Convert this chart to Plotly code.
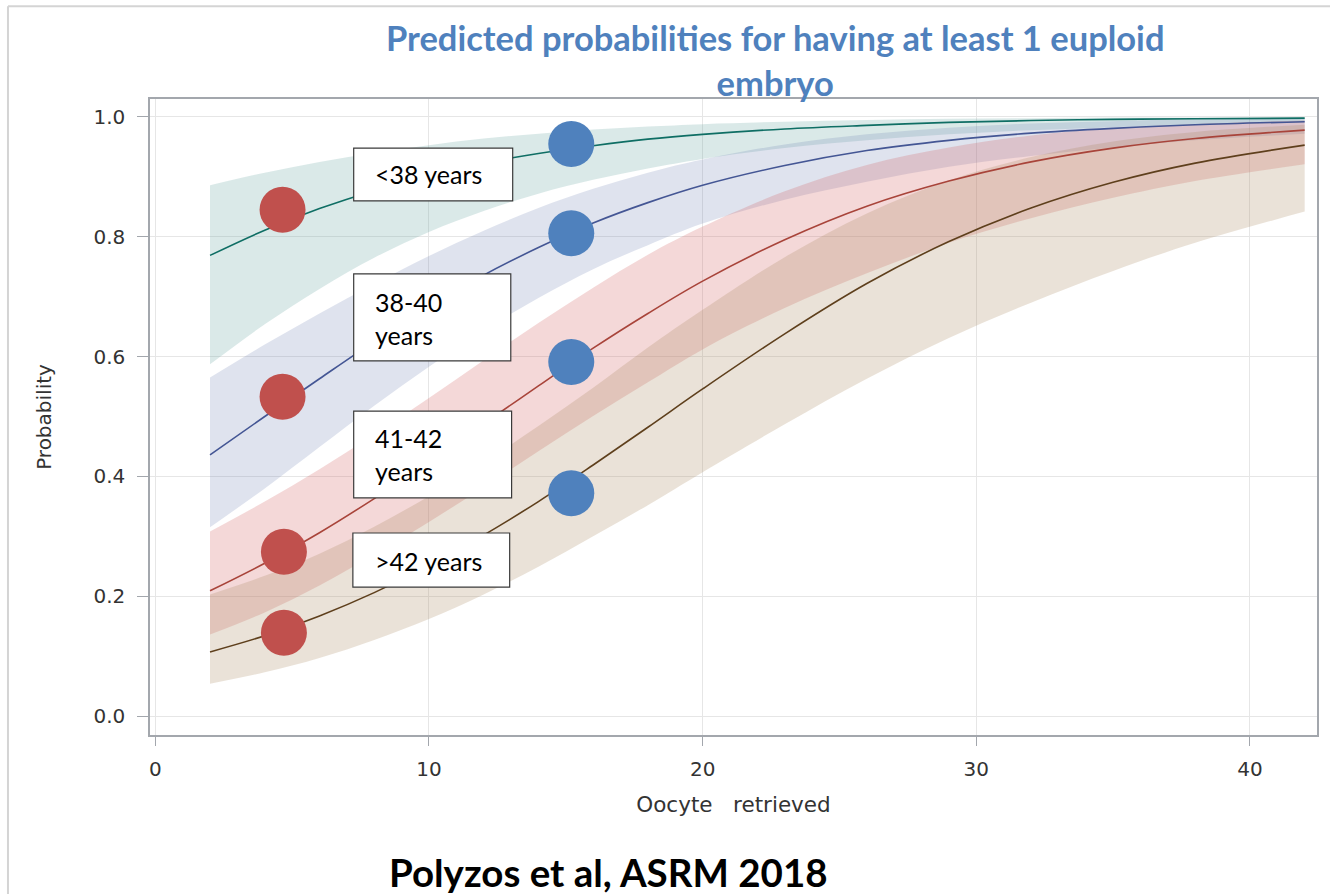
import plotly.graph_objects as go

# ---------------- data ----------------
oocytes = [2, 4, 6, 8, 10, 12, 14, 16, 18, 20, 23, 26, 29, 32, 35, 38, 42]

lt38_mean  = [0.769, 0.811, 0.847, 0.877, 0.902, 0.923, 0.939, 0.952, 0.963, 0.971, 0.980, 0.986, 0.991, 0.994, 0.996, 0.997, 0.998]
lt38_upper = [0.886, 0.907, 0.925, 0.940, 0.953, 0.964, 0.972, 0.979, 0.984, 0.988, 0.992, 0.995, 0.997, 0.998, 0.999, 0.999, 1.000]
lt38_lower = [0.587, 0.654, 0.713, 0.765, 0.808, 0.843, 0.872, 0.895, 0.914, 0.930, 0.948, 0.961, 0.971, 0.978, 0.983, 0.987, 0.991]

y38_40_mean  = [0.436, 0.500, 0.563, 0.625, 0.683, 0.736, 0.782, 0.823, 0.857, 0.886, 0.919, 0.944, 0.961, 0.973, 0.981, 0.987, 0.992]
y38_40_upper = [0.565, 0.620, 0.672, 0.721, 0.768, 0.810, 0.848, 0.880, 0.907, 0.929, 0.954, 0.971, 0.982, 0.989, 0.993, 0.996, 0.998]
y38_40_lower = [0.315, 0.380, 0.449, 0.518, 0.583, 0.644, 0.698, 0.746, 0.786, 0.822, 0.862, 0.892, 0.917, 0.935, 0.949, 0.961, 0.972]

y41_42_mean  = [0.209, 0.255, 0.306, 0.363, 0.424, 0.488, 0.551, 0.614, 0.672, 0.726, 0.795, 0.851, 0.893, 0.925, 0.948, 0.964, 0.978]
y41_42_upper = [0.308, 0.358, 0.412, 0.470, 0.531, 0.594, 0.656, 0.715, 0.770, 0.817, 0.876, 0.920, 0.949, 0.969, 0.981, 0.988, 0.994]
y41_42_lower = [0.136, 0.173, 0.218, 0.269, 0.324, 0.382, 0.442, 0.501, 0.557, 0.612, 0.681, 0.739, 0.790, 0.831, 0.865, 0.893, 0.921]

gt42_mean  = [0.107, 0.134, 0.167, 0.206, 0.251, 0.302, 0.358, 0.419, 0.482, 0.546, 0.638, 0.722, 0.792, 0.848, 0.891, 0.923, 0.953]
gt42_upper = [0.203, 0.234, 0.271, 0.316, 0.367, 0.423, 0.484, 0.548, 0.615, 0.678, 0.766, 0.839, 0.894, 0.933, 0.959, 0.975, 0.987]
gt42_lower = [0.054, 0.073, 0.097, 0.127, 0.162, 0.203, 0.249, 0.300, 0.352, 0.407, 0.487, 0.563, 0.631, 0.690, 0.743, 0.790, 0.842]

# highlighted points
red_dot_x = [4.65, 4.65, 4.7, 4.7]
red_dot_y = [0.845, 0.533, 0.274, 0.139]
blue_dot_x = [15.2, 15.2, 15.2, 15.2]
blue_dot_y = [0.955, 0.806, 0.591, 0.372]

group_labels = ["<38 years", "38-40<br>years", "41-42<br>years", ">42 years"]
label_x = [7.95, 7.95, 7.95, 7.95]
label_y = [0.904, 0.663, 0.436, 0.259]
box_x0 = [7.25, 7.25, 7.25, 7.22]
box_x1 = [13.06, 12.99, 13.02, 12.95]
box_y0 = [0.860, 0.593, 0.364, 0.215]
box_y1 = [0.948, 0.738, 0.509, 0.3055]

x_ticks = [0, 10, 20, 30, 40]
y_ticks = [0.0, 0.2, 0.4, 0.6, 0.8, 1.0]

groups = [
    ("<38", lt38_lower, lt38_mean, lt38_upper, "#0f6e64", "rgba(102,165,160,0.24)"),
    ("38-40", y38_40_lower, y38_40_mean, y38_40_upper, "#445694", "rgba(111,126,179,0.22)"),
    ("41-42", y41_42_lower, y41_42_mean, y41_42_upper, "#A8443A", "rgba(208,91,91,0.24)"),
    (">42", gt42_lower, gt42_mean, gt42_upper, "#5e3f1c", "rgba(169,134,91,0.24)"),
]

fig = go.Figure()

for name, lo, mid, up, lc, fc in groups:
    fig.add_trace(go.Scatter(x=oocytes, y=lo, mode="lines", line=dict(width=0, shape="spline"),
                             showlegend=False, hoverinfo="skip"))
    fig.add_trace(go.Scatter(x=oocytes, y=up, mode="lines", line=dict(width=0, shape="spline"),
                             fill="tonexty", fillcolor=fc, showlegend=False, hoverinfo="skip"))

for name, lo, mid, up, lc, fc in groups:
    fig.add_trace(go.Scatter(x=oocytes, y=mid, mode="lines", name=name,
                             line=dict(color=lc, width=1.6, shape="spline"), showlegend=False))

fig.add_trace(go.Scatter(x=red_dot_x, y=red_dot_y, mode="markers",
                         marker=dict(size=46, color="#C0504D"), showlegend=False))
fig.add_trace(go.Scatter(x=blue_dot_x, y=blue_dot_y, mode="markers",
                         marker=dict(size=46, color="#4F81BD"), showlegend=False))

shapes = []
for i in range(len(group_labels)):
    shapes.append(dict(type="rect", xref="x", yref="y", x0=box_x0[i], x1=box_x1[i],
                       y0=box_y0[i], y1=box_y1[i], fillcolor="white",
                       line=dict(color="#3a3a3a", width=1.2), layer="above"))
# outer light border of the slide image (left and top edges)
shapes.append(dict(type="line", xref="paper", yref="paper", x0=-0.1217, x1=-0.1217,
                   y0=-0.30, y1=1.146, line=dict(color="#d4d4d4", width=2), layer="below"))
shapes.append(dict(type="line", xref="paper", yref="paper", x0=-0.1217, x1=1.06,
                   y0=1.146, y1=1.146, line=dict(color="#d4d4d4", width=2), layer="below"))

annotations = []
for i, t in enumerate(group_labels):
    annotations.append(dict(x=label_x[i], y=label_y[i], xref="x", yref="y", text=t,
                            showarrow=False, xanchor="left", yanchor="middle", align="left",
                            font=dict(family="Lato", size=25, color="black")))

annotations.append(dict(x=0.5355, y=1.061, xref="paper", yref="paper",
                        text="Predicted probabilities for having at least 1 euploid<br>embryo",
                        showarrow=False, xanchor="center", yanchor="middle", align="center",
                        font=dict(family="Lato", size=34.5, color="#4F81BD", weight="bold")))
annotations.append(dict(x=0.393, y=-0.2155, xref="paper", yref="paper",
                        text="Polyzos et al, ASRM 2018", showarrow=False,
                        xanchor="center", yanchor="middle",
                        font=dict(family="Lato", size=38.5, color="black", weight="bold")))

axis_font = dict(family="DejaVu Sans", size=20, color="#333333")
xtitle_font = dict(family="DejaVu Sans", size=21.5, color="#333333")

fig.update_layout(
    width=1330, height=894,
    margin=dict(l=150, r=13, t=99, b=159),
    paper_bgcolor="white", plot_bgcolor="white",
    shapes=shapes, annotations=annotations,
    xaxis=dict(range=[-0.193, 42.45], tickvals=x_ticks, ticktext=[str(v) for v in x_ticks],
               showgrid=True, gridcolor="#e6e6e6", gridwidth=1.3, zeroline=False,
               showline=True, linecolor="#a3a7ad", linewidth=1.5, mirror=True,
               ticks="outside", ticklen=9, tickcolor="#a3a7ad", tickfont=axis_font,
               ticklabelstandoff=6,
               title=dict(text="Oocyte\u00a0\u00a0 retrieved", font=xtitle_font, standoff=17)),
    yaxis=dict(range=[-0.0317, 1.030], tickvals=y_ticks, ticktext=[f"{v:.1f}" for v in y_ticks],
               showgrid=True, gridcolor="#e6e6e6", gridwidth=1.3, zeroline=False,
               showline=True, linecolor="#a3a7ad", linewidth=1.5, mirror=True,
               ticks="outside", ticklen=11, tickcolor="#a3a7ad", tickfont=axis_font,
               ticklabelstandoff=8,
               title=dict(text="Probability", font=axis_font, standoff=36)),
)

fig.write_html("out.html", config={"displayModeBar": False})
